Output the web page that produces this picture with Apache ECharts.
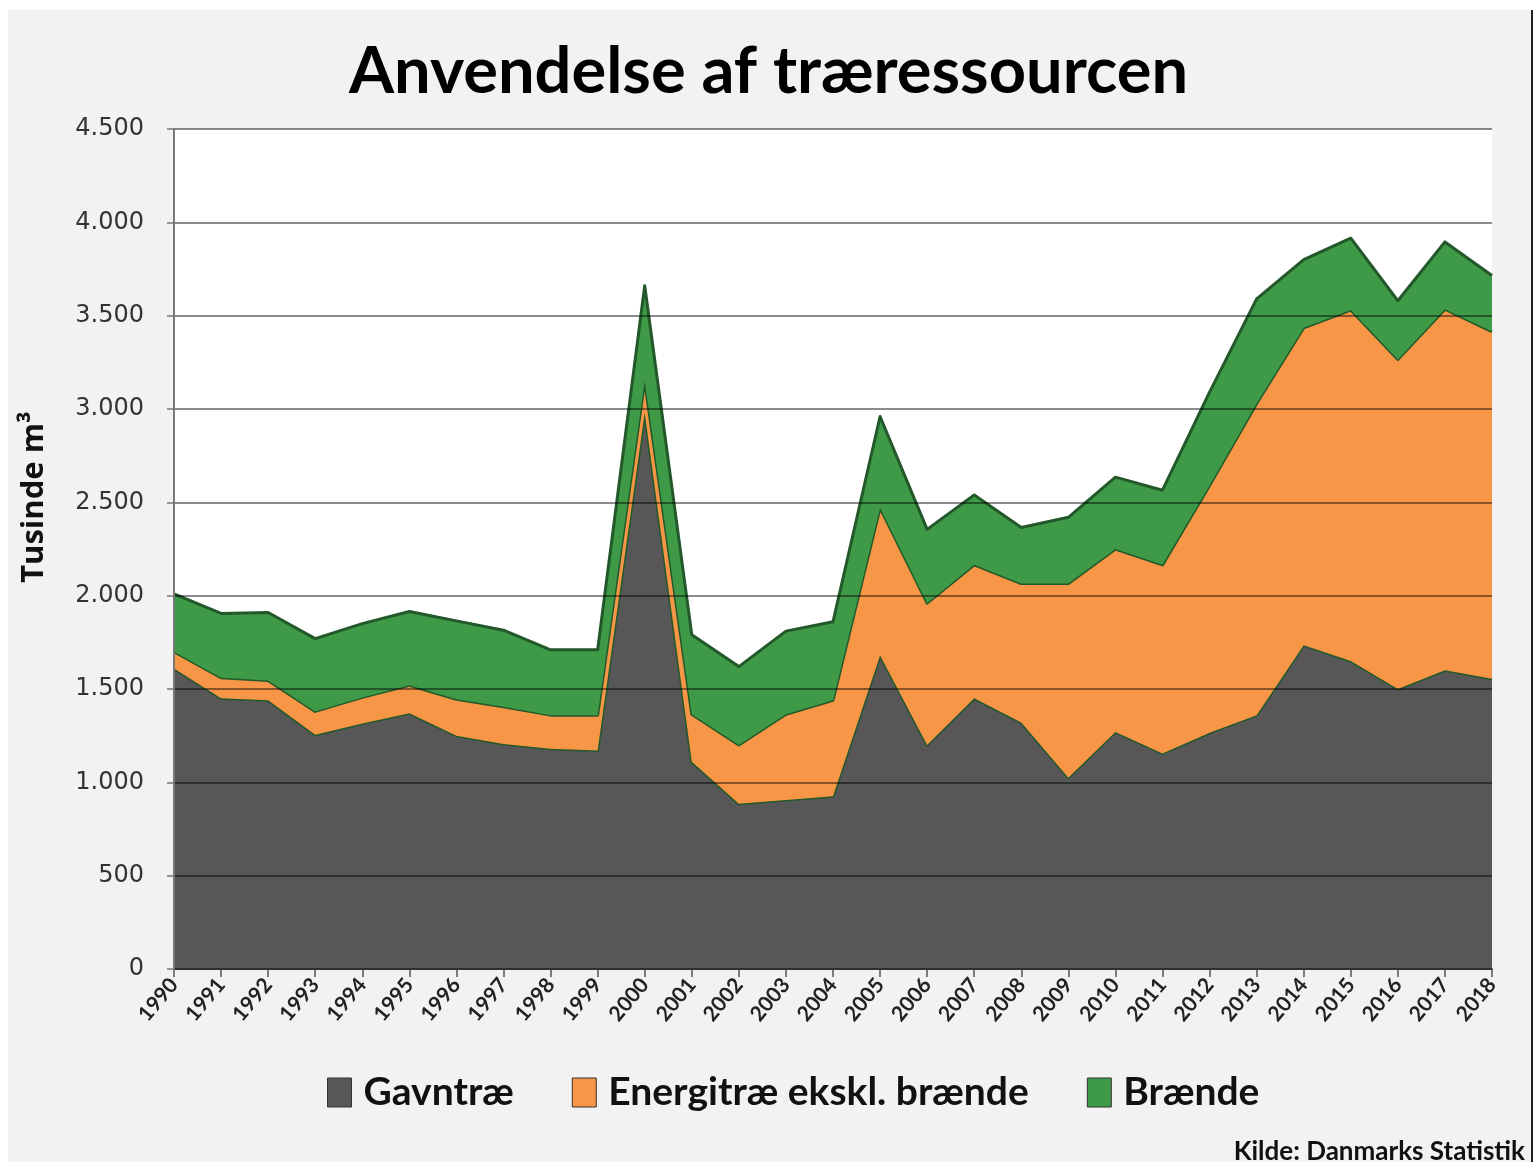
<!DOCTYPE html>
<html>
<head>
<meta charset="utf-8">
<script src="https://cdn.jsdelivr.net/npm/echarts@6/dist/echarts.min.js"></script>
<style>
html,body{margin:0;padding:0;background:#ffffff;}
#chart{width:1537px;height:1167px;}
</style>
</head>
<body>
<div id="chart"></div>
<script>
const years = ['1990','1991','1992','1993','1994','1995','1996','1997','1998','1999','2000','2001','2002','2003','2004','2005','2006','2007','2008','2009','2010','2011','2012','2013','2014','2015','2016','2017','2018'];
const gavntrae = [1610,1450,1440,1255,1315,1370,1250,1205,1180,1170,2980,1110,885,905,925,1680,1200,1450,1320,1025,1270,1155,1265,1360,1735,1650,1500,1600,1555];
const energitrae = [90,110,105,125,140,150,195,200,180,190,170,255,315,460,515,790,760,715,745,1040,980,1010,1325,1670,1700,1880,1765,1935,1860];
const braende = [310,345,365,390,395,395,420,410,350,350,510,425,420,445,420,490,395,375,300,355,385,400,500,560,365,385,315,360,300];
const seriesNames = ['Gavntræ','Energitræ ekskl. brænde','Brænde'];
const seriesColors = ['#575757','#f79646','#3f9a48'];

const chart = echarts.init(document.getElementById('chart'), null, {renderer:'canvas'});

function fmt(v){
  if (v >= 1000) {
    const t = Math.floor(v/1000), r = v % 1000;
    return t + '.' + String(r).padStart(3,'0');
  }
  return String(v);
}

const lineStyle = {color:'#22582a', width:3, join:'round'};
const dataArrays = [gavntrae, energitrae, braende];

const option = {
  backgroundColor:'#ffffff',
  animation:false,
  graphic:[
    {type:'rect', z:-10, shape:{x:8, y:10, width:1523, height:1152}, style:{fill:'#f2f2f2'}},
    {type:'line', z:-9, shape:{x1:1532, y1:10, x2:1532, y2:1162}, style:{stroke:'#222', lineWidth:2}}
  ],
  title:[
    {text:'Anvendelse af træressourcen', left:'center', top:35,
     textStyle:{fontFamily:'Lato', fontWeight:'bold', fontSize:65, color:'#000'}},
    {text:'Kilde: Danmarks Statistik', right:7, top:1134,
     textStyle:{fontFamily:'Lato', fontWeight:'bold', fontSize:26, color:'#111'}}
  ],
  legend:{
    data:seriesNames,
    bottom:50, left:322,
    itemWidth:24, itemHeight:29, itemGap:58,
    icon:'rect',
    textStyle:{fontFamily:'Lato', fontWeight:'bold', fontSize:39, color:'#111', padding:[0,0,0,7]},
    itemStyle:{borderColor:'#333', borderWidth:1}
  },
  grid:{left:174, right:45, top:129, bottom:198, show:true, backgroundColor:'#ffffff', borderWidth:0},
  xAxis:{
    type:'category', data:years, boundaryGap:false,
    axisLine:{lineStyle:{color:'#555', width:2}},
    axisTick:{show:true, length:8, lineStyle:{color:'#555', width:1.5}},
    axisLabel:{rotate:50, interval:0, margin:12, fontFamily:'Lato', fontWeight:'bold', fontSize:21, color:'#222'}
  },
  yAxis:{
    type:'value', min:0, max:4500, interval:500, z:10,
    name:'Tusinde m³', nameLocation:'middle', nameGap:124, nameRotate:90,
    nameTextStyle:{fontFamily:'Open Sans', fontWeight:'bold', fontSize:31, color:'#111', padding:[0,0,0,104]},
    axisLine:{show:true, lineStyle:{color:'#777', width:2}},
    axisTick:{show:true, length:7, lineStyle:{color:'#777', width:1.5}},
    axisLabel:{formatter:fmt, margin:30, fontFamily:'DejaVu Sans', fontSize:24, color:'#333'},
    splitLine:{show:true, lineStyle:{color:'rgba(0,0,0,0.45)', width:2}}
  },
  series: seriesNames.map((n,i)=>({
    name:n, type:'line', stack:'total', data:dataArrays[i],
    symbol:'none', smooth:false,
    lineStyle:lineStyle,
    itemStyle:{color:seriesColors[i]},
    areaStyle:{color:seriesColors[i], opacity:1},
    z:2+i
  }))
};
chart.setOption(option);
</script>
</body>
</html>
